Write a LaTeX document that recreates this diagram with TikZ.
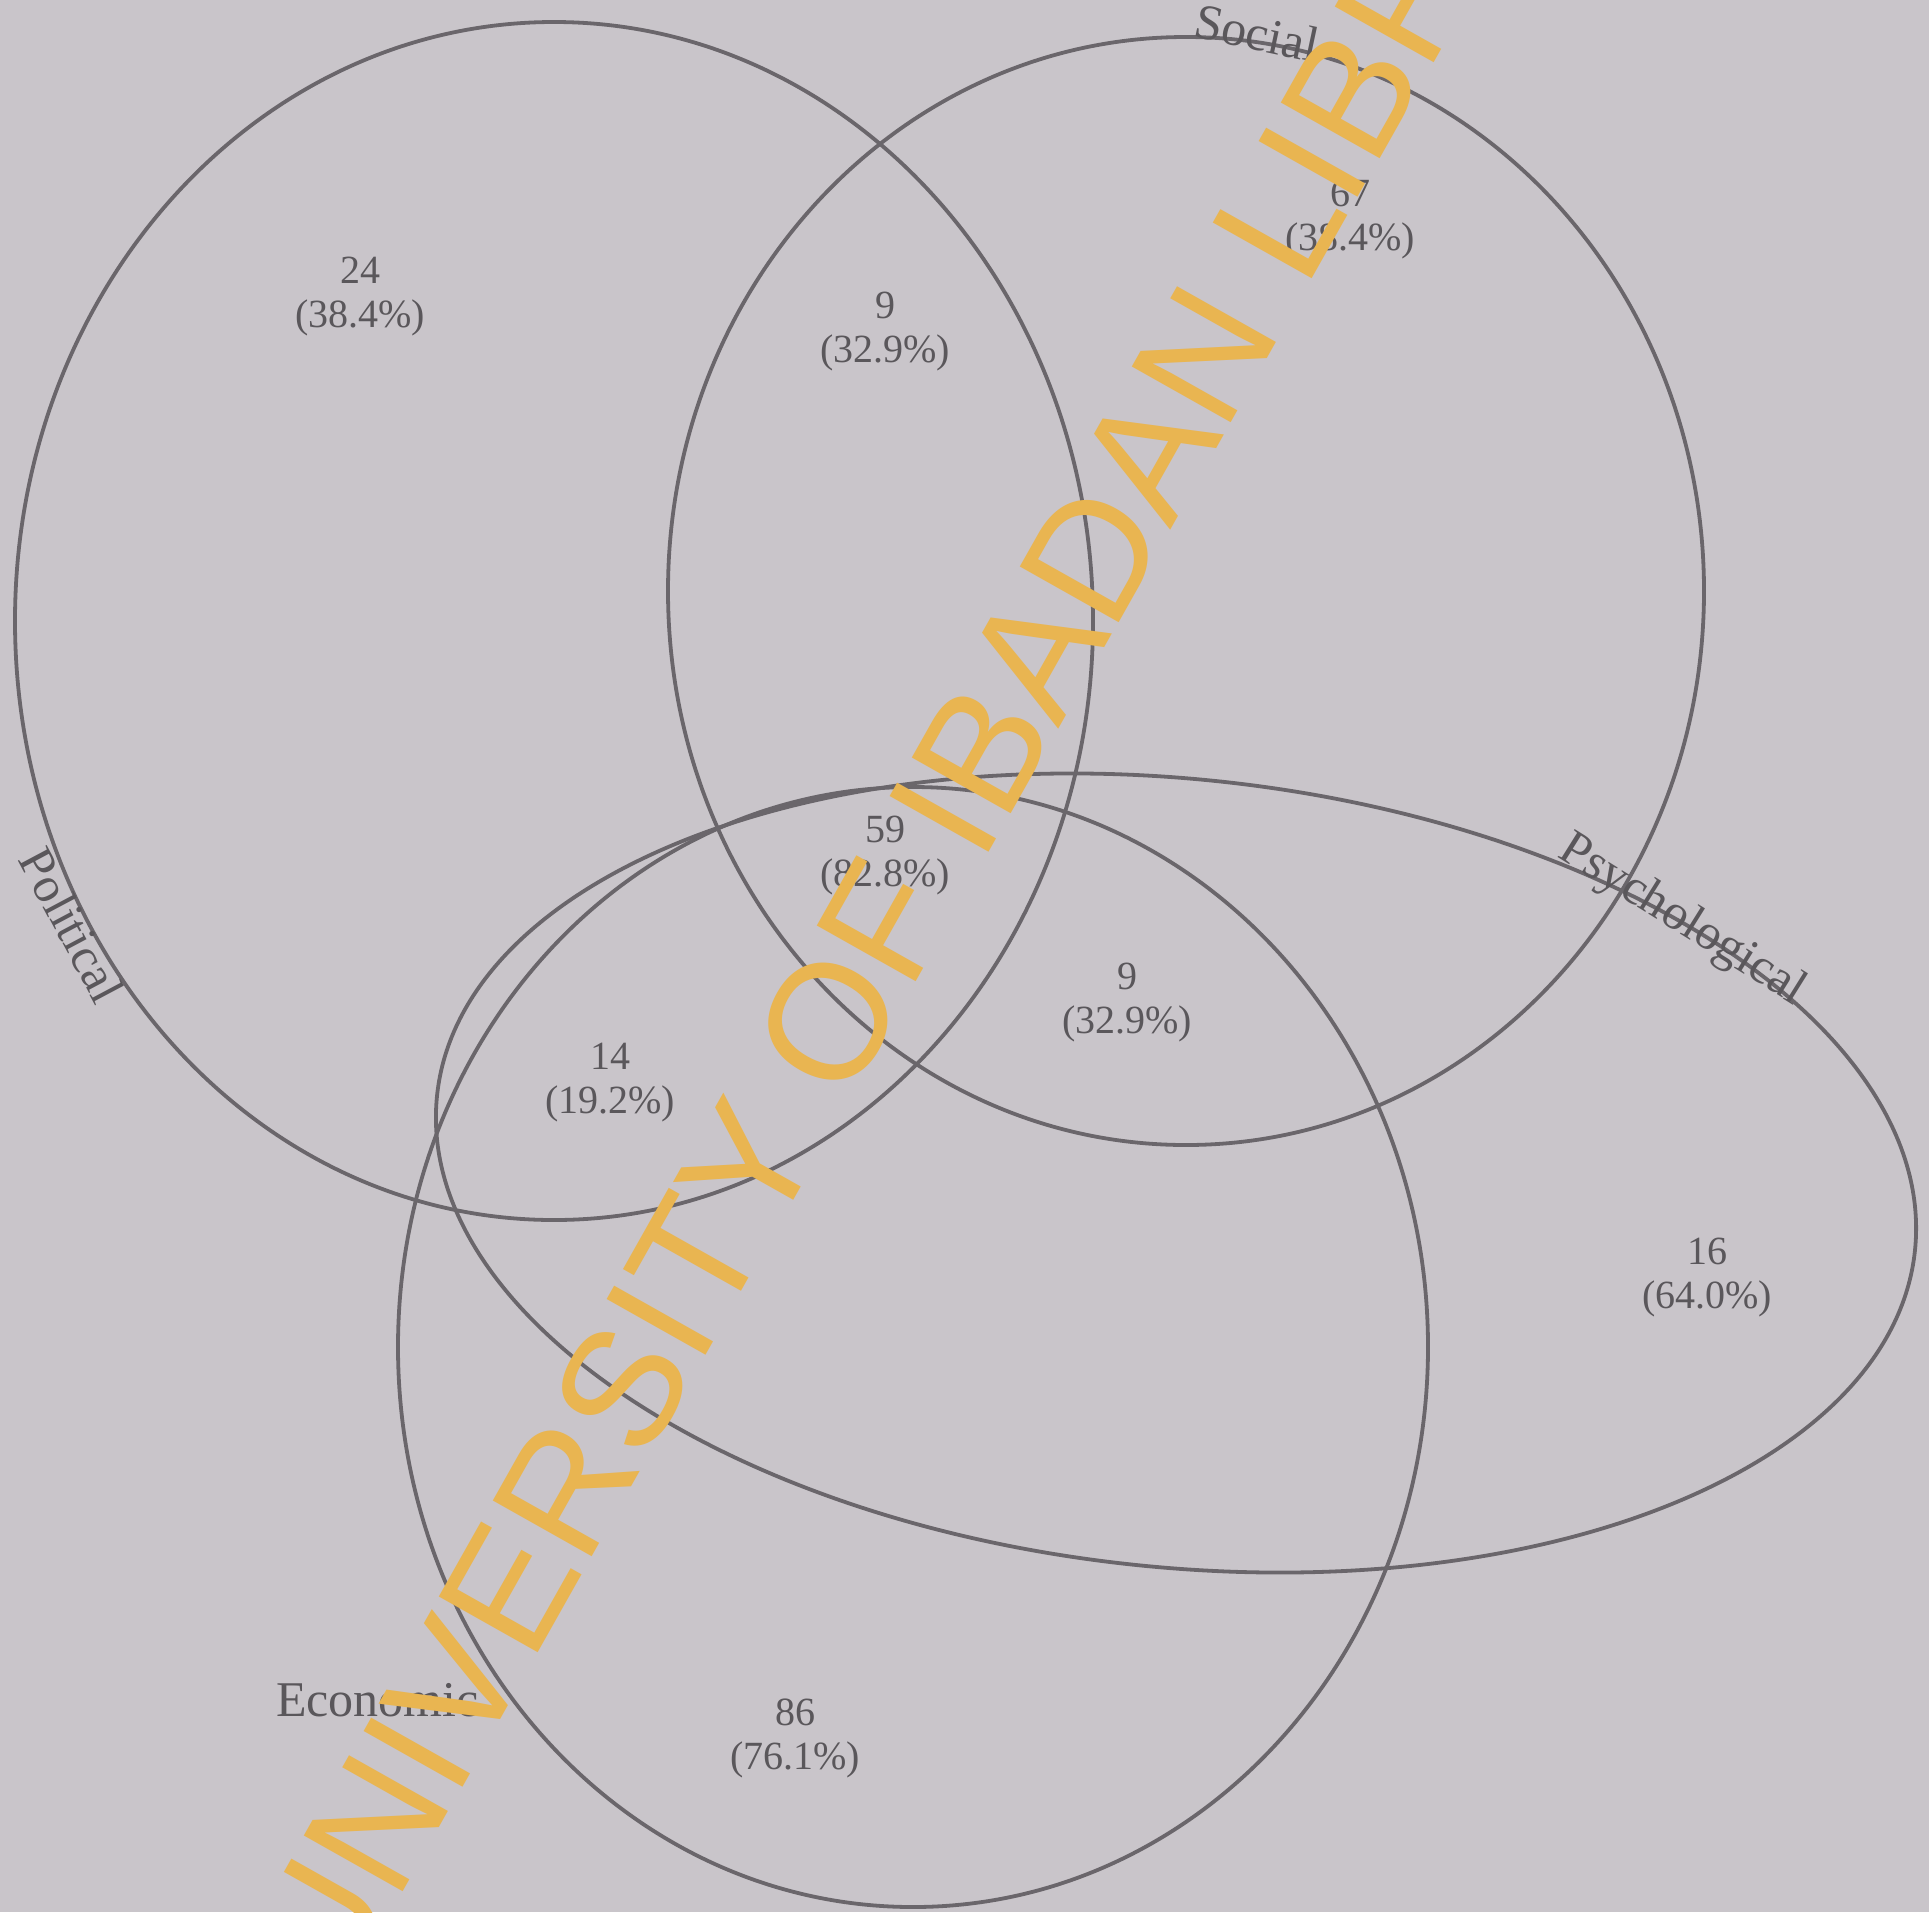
\documentclass[tikz,border=0pt]{standalone}
\usepackage{fontspec}
\setmainfont{Liberation Serif}
\newfontfamily\wmfont{Liberation Sans}
\definecolor{bg}{HTML}{C9C5CA}
\definecolor{ln}{HTML}{6A666B}
\definecolor{tx}{HTML}{5A575B}
\definecolor{wm}{HTML}{E9B551}
\begin{document}
\begin{tikzpicture}[x=1pt,y=1pt,
  setline/.style={draw=ln,line width=3.8pt},
  val/.style={text=tx,align=center,font=\fontsize{40}{44}\selectfont,inner sep=0pt},
  setname/.style={text=tx,font=\fontsize{50}{54}\selectfont,inner sep=0pt}]
\useasboundingbox (0,0) rectangle (1929,-1912);
\fill[bg] (0,0) rectangle (1929,-1912);
% sets
\draw[setline] (554,-621) ellipse [x radius=539,y radius=599];
\draw[setline] (1186,-591) ellipse [x radius=518,y radius=554];
\draw[setline] (1176,-1173) ellipse [x radius=743,y radius=394,rotate=-6];
\draw[setline] (913,-1347) ellipse [x radius=515,y radius=560];
% set names
\node[setname,rotate=-12] (social) at (1257,-33) {Social};
\node[setname,rotate=-32] (psy) at (1682,-921) {Psychological};
\node[setname,rotate=-62] (pol) at (72,-925) {Political};
\node[setname,anchor=west] (eco) at (276,-1700) {Economic};
% values
\node[val] (v1) at (360,-297) {24\\(38.4\%)};
\node[val] (v2) at (885,-332) {9\\(32.9\%)};
\node[val] (v3) at (1350,-220) {67\\(38.4\%)};
\node[val] (v4) at (885,-855) {59\\(82.8\%)};
\node[val] (v5) at (1127,-1002) {9\\(32.9\%)};
\node[val] (v6) at (610,-1083) {14\\(19.2\%)};
\node[val] (v7) at (1707,-1277) {16\\(64.0\%)};
\node[val] (v8) at (795,-1738) {86\\(76.1\%)};
% watermark
\begin{scope}
\clip (0,0) rectangle (1929,-1912);
\node[text=wm,font=\wmfont\fontsize{165}{165}\selectfont,rotate=60.6,inner sep=0pt] (wmark) at (945,-815) {UNIVERSITY OF IBADAN LIBRARY};
\end{scope}
\end{tikzpicture}
\end{document}
